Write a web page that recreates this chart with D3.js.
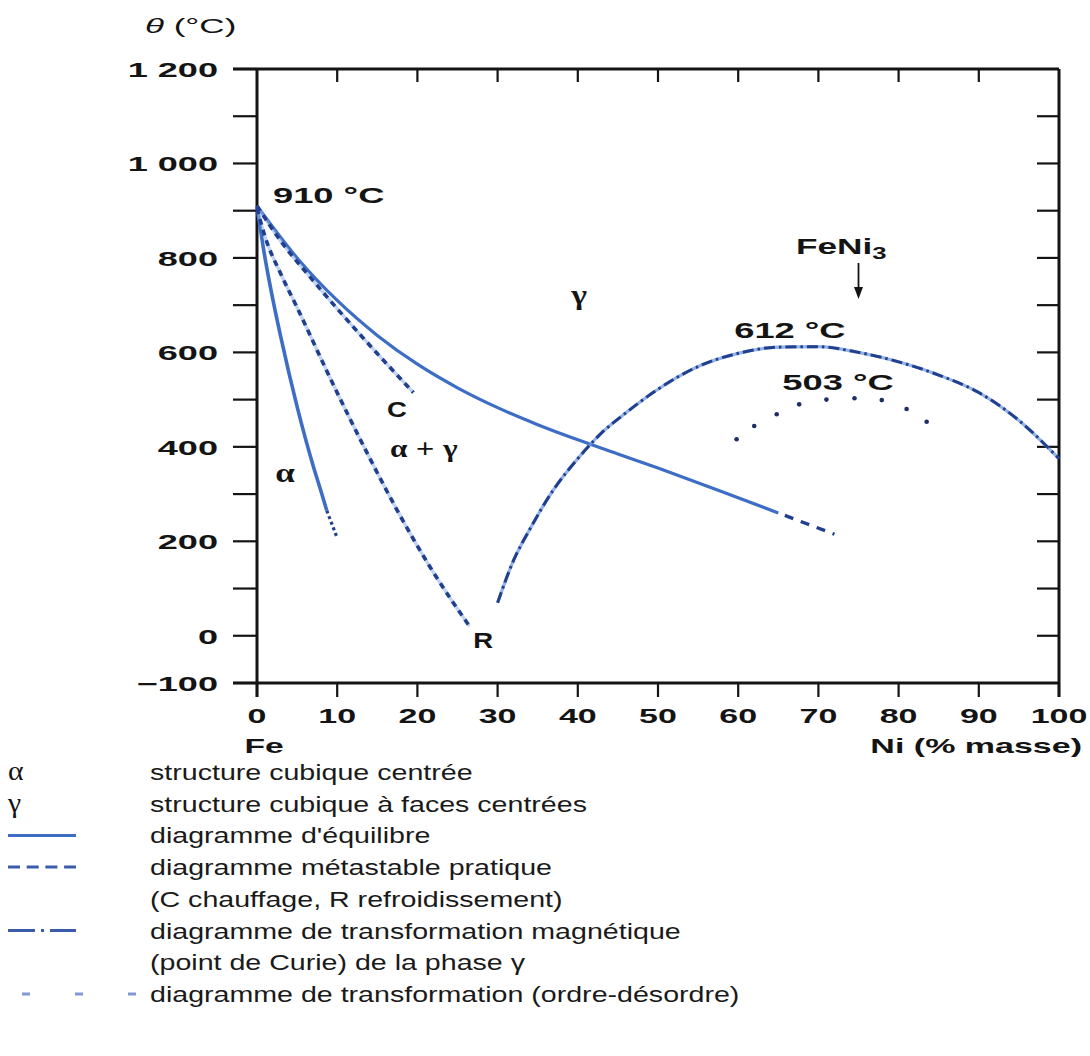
<!DOCTYPE html>
<html>
<head>
<meta charset="utf-8">
<script src="https://cdn.jsdelivr.net/npm/d3@7"></script>
<style>
  body { margin: 0; background: #fff; }
  svg { display: block; }
</style>
</head>
<body>
<svg id="chart" width="1090" height="1056"></svg>
<script>
// Fe–Ni phase diagram (θ in °C versus Ni in % masse)

// Equilibrium boundary γ / α+γ
const equilibriumNi = [0, 5, 10, 15, 20, 25, 30, 35, 40, 45, 50, 58, 65];
const equilibriumT  = [910, 800, 710, 636, 575, 525, 483, 447, 415, 385, 355, 305, 260];
// its extrapolated end (dashed)
const equilibriumTailNi = [65, 72];
const equilibriumTailT  = [260, 215];

// Equilibrium boundary α / α+γ
const alphaNi = [0, 1, 2, 3, 4, 5, 6, 7, 8, 8.7];
const alphaT  = [910, 800, 710, 630, 555, 485, 420, 360, 305, 265];
const alphaTailNi = [8.7, 10];
const alphaTailT  = [265, 207];

// Practical metastable diagram: C (heating) and R (cooling)
const heatingNi = [0, 3, 7, 13, 19.5];
const heatingT  = [910, 835, 752, 635, 515];
const coolingNi = [0, 1, 3, 5, 9, 14, 17.5, 21.6, 26.5];
const coolingT  = [905, 845, 765, 695, 550, 378, 265, 145, 20];

// Magnetic transformation (Curie point) of the γ phase
const curieNi = [30, 32, 34, 37, 40, 43, 46, 50, 55, 60, 65, 70, 75, 80, 85, 90, 95, 100];
const curieT  = [70, 160, 225, 310, 375, 430, 472, 522, 570, 598, 611, 612, 600, 580, 552, 515, 456, 375];

// Order–disorder transformation around FeNi3
const orderNi = [59.8, 62, 64.8, 67.6, 71, 74.5, 77.9, 81, 83.5];
const orderT  = [416, 444, 469, 490, 500, 503, 499, 480, 453];
const feNi3Ni = 75;

// Axes
const xTicks = [0, 10, 20, 30, 40, 50, 60, 70, 80, 90, 100];
const yTicks = [-100, 0, 100, 200, 300, 400, 500, 600, 700, 800, 900, 1000, 1100, 1200];
const yLabelValues = [-100, 0, 200, 400, 600, 800, 1000, 1200];
const yLabelTexts  = ["\u2212100", "0", "200", "400", "600", "800", "1 000", "1 200"];

// Legend
const legendSymbols = ["α", "γ", "solid", "dashed", "", "dashdot", "", "order"];
const legendTexts = [
  "structure cubique centrée",
  "structure cubique à faces centrées",
  "diagramme d'équilibre",
  "diagramme métastable pratique",
  "(C chauffage, R refroidissement)",
  "diagramme de transformation magnétique",
  "(point de Curie) de la phase γ",
  "diagramme de transformation (ordre-désordre)"
];

const SANS = "'Liberation Sans', Arial, Helvetica, sans-serif";
const SERIF = "'Liberation Serif', 'DejaVu Serif', serif";
const INK = "#141414";
const BLUE = "#3d6dc4";
const NAVY = "#213f8f";
const PALE = "#8fb0e8";

const svg = d3.select("#chart");
svg.append("rect").attr("width", 1090).attr("height", 1056).attr("fill", "#fff");

const x = d3.scaleLinear().domain([0, 100]).range([257, 1059]);
const y = d3.scaleLinear().domain([-100, 1200]).range([683, 69]);

// horizontally widened text, as in the printed figure
function wideText(parent, px, py, content, o = {}) {
  const size = o.size ?? 22, k = o.k ?? 1.7;
  const t = parent.append("text")
    .attr("transform", `translate(${px},${py}) scale(${k},1)`)
    .attr("text-anchor", o.anchor ?? "start")
    .attr("font-family", o.family ?? SANS)
    .attr("font-size", size)
    .attr("font-weight", o.weight ?? "bold")
    .attr("font-style", o.style ?? "normal")
    .attr("fill", o.fill ?? INK);
  if (content !== null) t.text(content);
  return t;
}

const zip = (a, b) => a.map((v, i) => [v, b[i]]);
const curve = d3.line().x(d => x(d[0])).y(d => y(d[1])).curve(d3.curveMonotoneX);

// ---------- frame and ticks ----------
const axes = svg.append("g").attr("stroke", INK).attr("fill", "none");
const [x0, x1] = x.range();
const yTop = y(1200), yBot = y(-100);
axes.append("line").attr("x1", x0).attr("x2", x0).attr("y1", yTop).attr("y2", yBot + 14).attr("stroke-width", 3);
axes.append("line").attr("x1", x1).attr("x2", x1).attr("y1", yTop).attr("y2", yBot + 14).attr("stroke-width", 3);
axes.append("line").attr("x1", x0 - 24).attr("x2", x1).attr("y1", yTop).attr("y2", yTop).attr("stroke-width", 3);
axes.append("line").attr("x1", x0 - 24).attr("x2", x1).attr("y1", yBot).attr("y2", yBot).attr("stroke-width", 3);

// left: outward ticks every 100 °C
axes.selectAll(".ly").data(yTicks).join("line")
  .attr("x1", x0 - 24).attr("x2", x0).attr("y1", d => y(d)).attr("y2", d => y(d)).attr("stroke-width", 2.2);
// right: inward ticks
axes.selectAll(".ry").data(yTicks.filter(d => d > -100 && d < 1200)).join("line")
  .attr("x1", x1 - 22).attr("x2", x1).attr("y1", d => y(d)).attr("y2", d => y(d)).attr("stroke-width", 2.2);
// top: inward ticks
axes.selectAll(".tx").data(xTicks.filter(d => d > 0 && d < 100)).join("line")
  .attr("x1", d => x(d)).attr("x2", d => x(d)).attr("y1", yTop).attr("y2", yTop + 13).attr("stroke-width", 2.2);
// bottom: outward ticks
axes.selectAll(".bx").data(xTicks).join("line")
  .attr("x1", d => x(d)).attr("x2", d => x(d)).attr("y1", yBot).attr("y2", yBot + 14).attr("stroke-width", 2.2);

// tick labels
const labels = svg.append("g");
yLabelValues.forEach((v, i) => wideText(labels, 218, y(v) + 8, yLabelTexts[i], { anchor: "end", size: 21, k: 1.72 }));
xTicks.forEach(v => wideText(labels, x(v), 723, String(v), { anchor: "middle", size: 21, k: 1.62 }));
wideText(labels, x(0) + 7, 753, "Fe", { anchor: "middle", size: 21, k: 1.6 });
wideText(labels, 1082, 753, "Ni (% masse)", { anchor: "end", size: 21, k: 1.62, weight: "600" });

// axis title θ (°C)
const th = wideText(labels, 145, 33, null, { size: 20, k: 1.75, weight: "normal" });
th.append("tspan").attr("font-style", "italic").text("θ");
th.append("tspan").text(" (°C)");

// ---------- curves ----------
const plot = svg.append("g").attr("fill", "none").attr("stroke-linecap", "butt");

// pale halo under dashed marks
function halo(points) {
  plot.append("path").attr("d", curve(points)).attr("stroke", PALE).attr("stroke-width", 3.4).attr("opacity", 0.55);
}

// equilibrium γ boundary
plot.append("path").attr("d", curve(zip(equilibriumNi, equilibriumT)))
  .attr("stroke", BLUE).attr("stroke-width", 3.2);
plot.append("path").attr("d", curve(zip(equilibriumTailNi, equilibriumTailT)))
  .attr("stroke", NAVY).attr("stroke-width", 3.4).attr("stroke-dasharray", "9,8").attr("stroke-dashoffset", -7);

// equilibrium α boundary
plot.append("path").attr("d", curve(zip(alphaNi, alphaT)))
  .attr("stroke", BLUE).attr("stroke-width", 3.6);
plot.append("path").attr("d", curve(zip(alphaTailNi, alphaTailT)))
  .attr("stroke", NAVY).attr("stroke-width", 3.2).attr("stroke-dasharray", "3,3");

// metastable C and R
const heating = zip(heatingNi, heatingT), cooling = zip(coolingNi, coolingT);
halo(heating); halo(cooling);
plot.append("path").attr("d", curve(heating))
  .attr("stroke", NAVY).attr("stroke-width", 3.6).attr("stroke-dasharray", "6,5");
plot.append("path").attr("d", curve(cooling))
  .attr("stroke", NAVY).attr("stroke-width", 3.6).attr("stroke-dasharray", "6,5");

// Curie line (dash-dot over pale line)
const curie = zip(curieNi, curieT);
plot.append("path").attr("d", curve(curie)).attr("stroke", "#6f98dc").attr("stroke-width", 3.2).attr("opacity", 0.75);
plot.append("path").attr("d", curve(curie))
  .attr("stroke", NAVY).attr("stroke-width", 3).attr("stroke-dasharray", "11,4,2.5,4");

// order–disorder points
plot.selectAll(".od").data(zip(orderNi, orderT)).join("circle")
  .attr("cx", d => x(d[0])).attr("cy", d => y(d[1])).attr("r", 2.3)
  .attr("fill", "#1d2d66").attr("stroke", "none");

// ---------- annotations ----------
const ann = svg.append("g");
wideText(ann, x(0) + 16, y(910) - 3, "910 °C", { size: 22, k: 1.65 });
wideText(ann, x(60) - 4, 338, "612 °C", { size: 22, k: 1.65 });
wideText(ann, x(65.5), 390, "503 °C", { size: 22, k: 1.65 });
wideText(ann, 387, 417, "C", { size: 22, k: 1.25 });
wideText(ann, 493, 648, "R", { size: 22, k: 1.25, anchor: "end" });
wideText(ann, 285, 482, "α", { size: 28, k: 1.25, family: SERIF, anchor: "middle" });
wideText(ann, 579, 304, "γ", { size: 28, k: 1.2, family: SERIF, anchor: "middle" });
const ag = wideText(ann, 390, 457, null, { size: 26, k: 1.2, family: SERIF });
ag.append("tspan").text("α");
ag.append("tspan").attr("font-family", SANS).attr("font-weight", "normal").text(" + ");
ag.append("tspan").text("γ");

// FeNi3 with arrow
const fe = wideText(ann, x(feNi3Ni) + 28, 254, null, { size: 22, k: 1.6, anchor: "end", weight: "600" });
fe.append("tspan").text("FeNi");
fe.append("tspan").attr("font-size", 16).attr("dy", 5).text("3");
ann.append("line").attr("x1", x(feNi3Ni)).attr("x2", x(feNi3Ni)).attr("y1", 263).attr("y2", 290)
  .attr("stroke", INK).attr("stroke-width", 1.8);
ann.append("path")
  .attr("d", d3.line()([[x(feNi3Ni) - 4.5, 287], [x(feNi3Ni) + 4.5, 287], [x(feNi3Ni), 299]]) + "Z")
  .attr("fill", INK);

// ---------- legend ----------
const leg = svg.append("g");
const rowY = i => 772 + i * 31.7;
legendTexts.forEach((t, i) => {
  const yy = rowY(i);
  wideText(leg, 150, yy + 8, t, { size: 22, k: 1.3, weight: "normal", fill: "#1a1a1a" });
  const s = legendSymbols[i];
  if (s === "α" || s === "γ") {
    wideText(leg, 8, yy + 8, s, { size: 27, k: 1.1, weight: "normal", family: SERIF });
  } else if (s === "solid") {
    leg.append("line").attr("x1", 8).attr("x2", 76).attr("y1", yy).attr("y2", yy)
      .attr("stroke", BLUE).attr("stroke-width", 3);
  } else if (s === "dashed") {
    leg.append("line").attr("x1", 8).attr("x2", 76).attr("y1", yy).attr("y2", yy)
      .attr("stroke", "#3a5cab").attr("stroke-width", 3).attr("stroke-dasharray", "12,6.7");
  } else if (s === "dashdot") {
    leg.append("line").attr("x1", 8).attr("x2", 76).attr("y1", yy).attr("y2", yy)
      .attr("stroke", "#3a5cab").attr("stroke-width", 3).attr("stroke-dasharray", "27,6,3,6");
  } else if (s === "order") {
    leg.append("line").attr("x1", 22).attr("x2", 145).attr("y1", yy).attr("y2", yy)
      .attr("stroke", "#7f9ad4").attr("stroke-width", 3).attr("stroke-dasharray", "8,45");
  }
});
</script>
</body>
</html>
